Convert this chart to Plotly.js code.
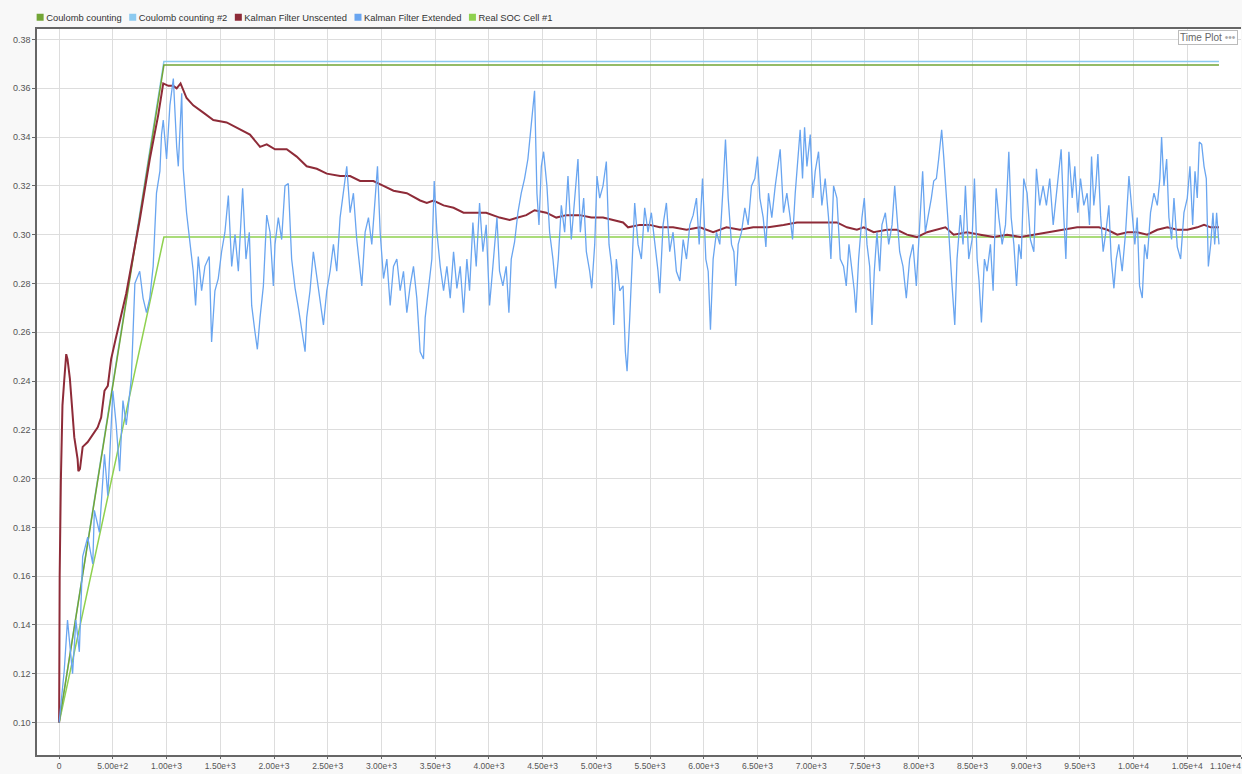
<!DOCTYPE html>
<html>
<head>
<meta charset="utf-8">
<script src="https://cdn.plot.ly/plotly-3.0.1.min.js"></script>
<style>
  html, body { margin: 0; padding: 0; background: #f8f8f8; }
  #chart { width: 1242px; height: 774px; }
</style>
</head>
<body>
<div id="chart"></div>
<script>
// ---- Data ----
const seriesNames = ["Coulomb counting", "Coulomb counting #2", "Kalman Filter Unscented", "Kalman Filter Extended", "Real SOC Cell #1"];
const seriesColors = ["#72a536", "#8ccaf0", "#8e2b38", "#69a5f0", "#8fd14f"];

const ccX  = [0, 975, 10795];
const ccY  = [0.10, 0.3695, 0.3695];
const cc2X = [0, 975, 10795];
const cc2Y = [0.10, 0.371, 0.371];
const socX = [0, 975, 10795];
const socY = [0.10, 0.299, 0.299];

const ukfX = [0,5,16,31,47,66,78,100,119,141,172,179,194,219,266,313,359,391,422,453,484,525,625,750,844,922,969,1016,1062,1094,1130,1186,1248,1342,1435,1559,1683,1776,1870,1932,2009,2118,2211,2304,2398,2491,2615,2708,2801,2925,3019,3112,3236,3360,3422,3484,3578,3671,3764,3851,3975,4099,4193,4270,4348,4425,4534,4627,4720,4845,4954,5062,5155,5249,5295,5404,5497,5590,5714,5839,5963,6087,6211,6336,6460,6600,6742,6866,6991,7115,7239,7332,7425,7488,7581,7705,7798,7891,7984,8078,8155,8249,8326,8450,8574,8699,8823,8948,9072,9196,9320,9475,9599,9677,9755,9848,9941,10034,10127,10221,10314,10407,10500,10593,10656,10718,10795];
const ukfY = [0.10,0.16,0.199,0.23,0.24,0.251,0.249,0.241,0.23,0.217,0.208,0.203,0.204,0.213,0.215,0.218,0.221,0.225,0.236,0.238,0.249,0.257,0.276,0.306,0.331,0.349,0.362,0.361,0.361,0.36,0.362,0.356,0.353,0.35,0.347,0.346,0.343,0.341,0.336,0.337,0.335,0.335,0.332,0.328,0.327,0.325,0.324,0.324,0.322,0.322,0.32,0.318,0.317,0.314,0.313,0.314,0.312,0.311,0.309,0.309,0.309,0.307,0.306,0.307,0.308,0.31,0.309,0.307,0.308,0.308,0.307,0.307,0.306,0.305,0.303,0.304,0.304,0.303,0.303,0.302,0.303,0.301,0.303,0.302,0.303,0.303,0.304,0.305,0.305,0.305,0.305,0.303,0.302,0.303,0.301,0.302,0.302,0.30,0.299,0.301,0.302,0.303,0.30,0.301,0.30,0.299,0.30,0.299,0.30,0.301,0.302,0.303,0.303,0.303,0.302,0.30,0.301,0.301,0.30,0.302,0.303,0.302,0.302,0.303,0.304,0.303,0.303];

const ekfX = [0,47,78,94,125,156,188,219,266,313,328,375,422,453,500,531,563,594,625,672,705,750,781,813,844,875,906,938,953,969,1000,1031,1063,1094,1109,1141,1155,1186,1217,1248,1270,1295,1326,1357,1397,1419,1450,1481,1512,1543,1575,1606,1637,1668,1708,1739,1770,1792,1823,1845,1870,1901,1932,1963,1994,2009,2040,2071,2102,2133,2164,2196,2227,2258,2289,2304,2335,2366,2398,2429,2460,2491,2522,2553,2584,2615,2646,2677,2708,2739,2770,2801,2817,2848,2879,2910,2941,2963,2988,3019,3050,3081,3112,3143,3174,3205,3236,3267,3298,3329,3360,3391,3407,3438,3469,3491,3516,3547,3578,3609,3640,3671,3702,3733,3764,3795,3820,3851,3882,3913,3944,3975,4006,4037,4075,4099,4130,4161,4186,4208,4239,4270,4301,4332,4363,4394,4425,4447,4466,4488,4509,4540,4565,4596,4621,4646,4674,4705,4736,4767,4798,4829,4851,4882,4907,4938,4957,4985,5006,5031,5062,5093,5118,5143,5162,5186,5218,5249,5270,5286,5311,5336,5357,5388,5419,5450,5481,5512,5543,5574,5590,5621,5652,5683,5714,5745,5777,5808,5839,5870,5901,5932,5957,5988,6019,6041,6062,6087,6118,6149,6180,6202,6227,6258,6280,6298,6320,6351,6382,6413,6444,6475,6500,6522,6553,6578,6602,6633,6665,6686,6711,6742,6773,6804,6826,6851,6873,6897,6919,6938,6960,6991,7016,7037,7068,7099,7130,7161,7183,7208,7239,7270,7301,7326,7351,7379,7401,7416,7441,7472,7494,7519,7544,7565,7587,7612,7637,7658,7690,7721,7752,7777,7798,7823,7854,7885,7916,7947,7978,8009,8037,8062,8093,8118,8140,8165,8186,8214,8233,8258,8280,8311,8336,8357,8388,8413,8435,8466,8497,8519,8544,8562,8584,8612,8637,8668,8693,8721,8746,8777,8808,8839,8861,8886,8911,8932,8954,8978,9009,9040,9072,9096,9127,9158,9189,9220,9252,9283,9311,9326,9351,9370,9398,9429,9453,9481,9506,9537,9568,9590,9609,9630,9649,9668,9693,9717,9742,9770,9792,9817,9839,9863,9894,9926,9957,9988,10012,10034,10056,10081,10103,10127,10158,10190,10221,10245,10261,10283,10308,10329,10354,10376,10407,10438,10469,10500,10525,10550,10572,10593,10612,10634,10656,10677,10696,10718,10739,10755,10773,10795];
const ekfY = [0.10,0.121,0.142,0.135,0.12,0.142,0.129,0.168,0.176,0.165,0.187,0.178,0.21,0.193,0.236,0.222,0.203,0.232,0.222,0.241,0.28,0.285,0.274,0.268,0.274,0.287,0.317,0.326,0.341,0.347,0.331,0.353,0.364,0.336,0.328,0.358,0.327,0.309,0.296,0.285,0.271,0.291,0.277,0.287,0.291,0.256,0.277,0.282,0.293,0.301,0.316,0.287,0.30,0.285,0.319,0.29,0.301,0.271,0.26,0.253,0.266,0.279,0.308,0.301,0.279,0.296,0.307,0.298,0.32,0.321,0.29,0.278,0.27,0.26,0.252,0.266,0.277,0.293,0.283,0.274,0.263,0.277,0.285,0.296,0.285,0.307,0.317,0.328,0.309,0.317,0.298,0.287,0.279,0.301,0.307,0.296,0.315,0.328,0.301,0.282,0.29,0.271,0.287,0.29,0.277,0.285,0.268,0.279,0.287,0.274,0.252,0.249,0.266,0.277,0.29,0.322,0.301,0.287,0.277,0.287,0.274,0.293,0.278,0.287,0.268,0.29,0.277,0.305,0.287,0.313,0.293,0.304,0.271,0.287,0.307,0.285,0.279,0.287,0.268,0.29,0.297,0.309,0.317,0.323,0.331,0.345,0.359,0.317,0.304,0.328,0.334,0.32,0.301,0.29,0.278,0.29,0.312,0.301,0.324,0.298,0.315,0.331,0.301,0.315,0.293,0.285,0.278,0.296,0.324,0.315,0.32,0.33,0.296,0.287,0.263,0.29,0.277,0.279,0.252,0.244,0.266,0.29,0.313,0.296,0.29,0.311,0.301,0.309,0.298,0.285,0.276,0.304,0.313,0.293,0.301,0.285,0.281,0.298,0.29,0.304,0.308,0.315,0.296,0.323,0.29,0.285,0.261,0.29,0.301,0.296,0.32,0.339,0.315,0.296,0.293,0.279,0.296,0.301,0.311,0.304,0.32,0.323,0.332,0.315,0.307,0.295,0.317,0.307,0.32,0.328,0.335,0.309,0.317,0.307,0.298,0.317,0.331,0.343,0.323,0.344,0.328,0.341,0.315,0.326,0.334,0.312,0.323,0.307,0.29,0.32,0.315,0.29,0.287,0.279,0.296,0.285,0.277,0.268,0.29,0.307,0.315,0.296,0.287,0.263,0.285,0.301,0.285,0.304,0.309,0.296,0.304,0.32,0.307,0.293,0.287,0.274,0.29,0.296,0.279,0.304,0.326,0.301,0.308,0.315,0.322,0.323,0.331,0.343,0.332,0.317,0.301,0.279,0.263,0.29,0.308,0.296,0.32,0.29,0.298,0.323,0.29,0.281,0.264,0.29,0.285,0.296,0.277,0.319,0.307,0.296,0.304,0.334,0.307,0.296,0.279,0.296,0.29,0.323,0.317,0.298,0.293,0.327,0.312,0.32,0.312,0.323,0.304,0.317,0.328,0.335,0.307,0.29,0.334,0.315,0.328,0.309,0.323,0.312,0.317,0.304,0.332,0.312,0.32,0.333,0.308,0.293,0.301,0.312,0.29,0.278,0.29,0.296,0.285,0.301,0.324,0.307,0.296,0.307,0.279,0.274,0.296,0.29,0.309,0.317,0.312,0.323,0.34,0.32,0.331,0.307,0.298,0.315,0.295,0.29,0.309,0.315,0.328,0.304,0.326,0.315,0.338,0.337,0.328,0.323,0.287,0.296,0.309,0.296,0.309,0.296];

// ---- Axis ticks ----
const xTickVals = [0,500,1000,1500,2000,2500,3000,3500,4000,4500,5000,5500,6000,6500,7000,7500,8000,8500,9000,9500,10000,10500,11000];
const xTickText = ["0","5.00e+2","1.00e+3","1.50e+3","2.00e+3","2.50e+3","3.00e+3","3.50e+3","4.00e+3","4.50e+3","5.00e+3","5.50e+3","6.00e+3","6.50e+3","7.00e+3","7.50e+3","8.00e+3","8.50e+3","9.00e+3","9.50e+3","1.00e+4","1.05e+4","1.10e+4"];
const yTickVals = [0.10,0.12,0.14,0.16,0.18,0.20,0.22,0.24,0.26,0.28,0.30,0.32,0.34,0.36,0.38];
const yTickText = ["0.10","0.12","0.14","0.16","0.18","0.20","0.22","0.24","0.26","0.28","0.30","0.32","0.34","0.36","0.38"];

// ---- Traces ----
function lineTrace(x, y, color, width, name) {
  return { x: x, y: y, type: 'scatter', mode: 'lines', name: name,
           line: { color: color, width: width }, showlegend: false, hoverinfo: 'x+y+name' };
}
const traces = [
  lineTrace(socX, socY, seriesColors[4], 1.5, seriesNames[4]),
  lineTrace(cc2X, cc2Y, seriesColors[1], 1.5, seriesNames[1]),
  lineTrace(ccX, ccY, seriesColors[0], 1.5, seriesNames[0]),
  lineTrace(ukfX, ukfY, seriesColors[2], 2, seriesNames[2]),
  lineTrace(ekfX, ekfY, seriesColors[3], 1.3, seriesNames[3])
];
// legend entries shown as coloured squares
seriesNames.forEach(function (n, i) {
  traces.push({ x: [null], y: [null], type: 'scatter', mode: 'markers', name: n,
                marker: { symbol: 'square', size: 7, color: seriesColors[i] },
                showlegend: true, hoverinfo: 'skip' });
});

const fontFam = '"Liberation Sans", Arial, sans-serif';
const layout = {
  width: 1242, height: 774,
  paper_bgcolor: '#f8f8f8', plot_bgcolor: '#ffffff',
  margin: { l: 37, r: 1, t: 29, b: 19 },
  font: { family: fontFam, size: 9, color: '#555' },
  showlegend: true,
  legend: { orientation: 'h', x: -0.014, xanchor: 'left', y: 1.036, yanchor: 'top',
            font: { family: fontFam, size: 9.4, color: '#333' }, bgcolor: 'rgba(0,0,0,0)',
            itemclick: false, itemdoubleclick: false },
  xaxis: { range: [-206, 11000], tickvals: xTickVals, ticktext: xTickText,
           showgrid: true, gridcolor: '#dddddd', gridwidth: 1, zeroline: false,
           showline: true, linecolor: '#666', linewidth: 1.5, mirror: true,
           ticks: 'outside', ticklen: 2, tickcolor: '#666', ticklabeloverflow: 'allow',
           tickfont: { family: fontFam, size: 8.5, color: '#555' } },
  yaxis: { range: [0.0867, 0.3843], tickvals: yTickVals, ticktext: yTickText,
           showgrid: true, gridcolor: '#dddddd', gridwidth: 1, zeroline: false,
           showline: true, linecolor: '#666', linewidth: 1.5,
           ticks: 'outside', ticklen: 3, tickcolor: '#666',
           tickfont: { family: fontFam, size: 9, color: '#555' } },
  annotations: [{
    xref: 'paper', yref: 'paper', x: 1, y: 1, xanchor: 'right', yanchor: 'top',
    xshift: -3, yshift: -1,
    text: 'Time Plot <span style="color:#aaa">•••</span>', showarrow: false,
    font: { family: fontFam, size: 10, color: '#666' },
    bgcolor: '#ffffff', bordercolor: '#bbbbbb', borderwidth: 1, borderpad: 1
  }]
};

Plotly.newPlot('chart', traces, layout, { displayModeBar: false }).then(function (gd) {
  // tighten legend: text close to its square, items packed like the reference
  const items = gd.querySelectorAll('.legend .traces');
  let x = null;
  items.forEach(function (g) {
    const m = /translate\(\s*([-\d.]+)[\s,]+([-\d.]+)\s*\)/.exec(g.getAttribute('transform') || '');
    const y = m ? parseFloat(m[2]) : 0;
    if (x === null) x = m ? parseFloat(m[1]) : 0;
    const t = g.querySelector('.legendtext');
    t.setAttribute('x', 26);
    const w = t.getComputedTextLength();
    g.setAttribute('transform', 'translate(' + x + ',' + y + ')');
    const r = g.querySelector('.legendtoggle');
    if (r) r.setAttribute('width', 26 + w);
    x += w + 17;
  });
  // the last x tick label sits on the right edge: right-align it so it stays visible
  const xt = gd.querySelectorAll('.xtick text');
  if (xt.length) {
    const last = xt[xt.length - 1];
    last.setAttribute('text-anchor', 'end');
  }
});
</script>
</body>
</html>
